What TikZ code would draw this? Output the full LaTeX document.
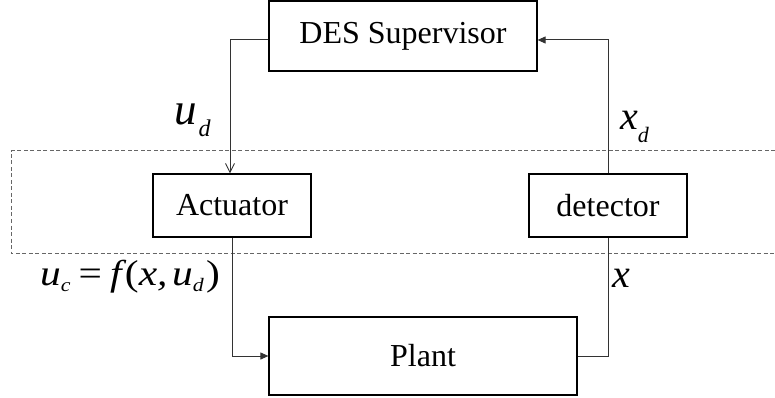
\documentclass[tikz,border=0pt]{standalone}
\usepackage{fontspec}
\setmainfont{Liberation Serif}
\usetikzlibrary{arrows.meta,calc}
\newcommand\fs[1]{\fontsize{#1}{#1}\selectfont}
\newcommand\lowsub[3]{\raisebox{-#1}{\fs{#2}#3}}
\begin{document}
\begin{tikzpicture}[x=1pt,y=-1pt,
  blk/.style={draw=black,line width=1.2pt,inner sep=0pt,font=\fs{32}},
  link/.style={draw=black!80,line width=1pt},
  openhead/.style={-{Straight Barb[length=9pt,width=9pt,line width=0.9pt]}},
  fullhead/.style={-{Triangle[length=8pt,width=7pt]}},
  frame/.style={draw=black!60,line width=1pt,dash pattern=on 4pt off 2.5pt},
  sig/.style={anchor=base west,inner sep=0pt,font=\itshape}]
\useasboundingbox (0,0) rectangle (775,398);

% blocks
\node[blk,minimum width=268pt,minimum height=70pt] (sup) at (403,36) {DES Supervisor};
\node[blk,minimum width=158pt,minimum height=63pt] (act) at (232,205.5) {Actuator};
\node[blk,minimum width=158pt,minimum height=63pt] (det) at (608,205.5) {detector};
\node[blk,minimum width=308pt,minimum height=78pt] (plant) at (423,356) {Plant};

% dashed interface band, open on the right
\draw[frame] (775,151) -- (11,151) -- (11,253) -- (775,253);

% signal paths
\draw[link,openhead] ([yshift=-4pt]sup.west) -| ([xshift=-2pt]act.north);
\draw[link,fullhead] (act.south) |- (plant.west);
\draw[link] (plant.east) -| (det.south);
\draw[link,fullhead] (det.north) |- ([yshift=-4pt]sup.east);

% signal labels
\node[sig] (ud) at (174,125) {\fs{45}u\hspace{2pt}\lowsub{12pt}{24}{d}};
\node[sig] (xd) at (620,130) {\fs{40}x\lowsub{13pt}{22}{d}};
\node[sig] (uc) at (40,285) {\scalebox{1.15}[1]{\fs{36}u\lowsub{6pt}{19}{c}\hspace{7pt}{\upshape =}\hspace{7pt}f\hspace{3pt}{\upshape(}x,\hspace{4pt}u\lowsub{6pt}{19}{d}\hspace{2pt}{\upshape)}}};
\node[sig] (xs) at (612,287) {\fs{40}x};
\end{tikzpicture}
\end{document}
